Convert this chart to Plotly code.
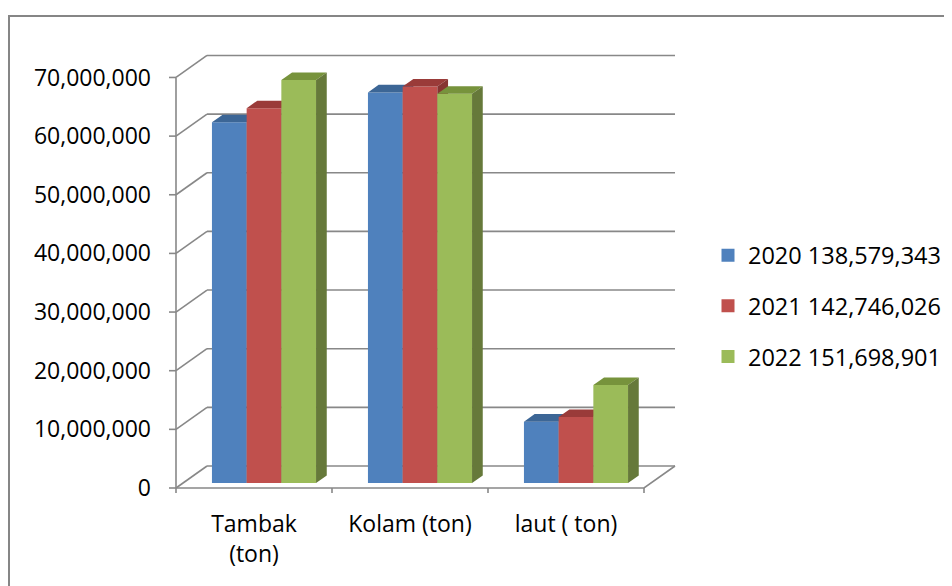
import plotly.graph_objects as go

# ---------------- data ----------------
categories = ["Tambak<br>(ton)", "Kolam (ton)", "laut ( ton)"]
series_names = ["2020 138,579,343", "2021 142,746,026", "2022 151,698,901"]
v2020 = [61_500_000, 66_600_000, 10_450_000]
v2021 = [63_900_000, 67_600_000, 11_250_000]
v2022 = [68_700_000, 66_350_000, 16_700_000]
y_ticks = [0, 10_000_000, 20_000_000, 30_000_000, 40_000_000, 50_000_000, 60_000_000, 70_000_000]

series_values = [v2020, v2021, v2022]
front_colors = ["#4F81BD", "#C0504D", "#9BBB59"]
top_colors = ["#3C6696", "#9A3B39", "#77933C"]
side_colors = ["#365A85", "#873432", "#66793A"]

# ---------------- geometry (pixel scales) ----------------
PAGE = 8                    # default page body margin of the html page
W, H = 952 - PAGE, 586 - PAGE
PX_X = 156.0                # px per category unit
PX_Y = 5.865 / 1e6          # px per value unit
ML, MT = 169.0 - PAGE, 54.0 - PAGE
x_range = [-7 / PX_X, 3 + 33 / PX_X]
y_range = [-6 / PX_Y, 74_000_000]
plot_w = (x_range[1] - x_range[0]) * PX_X
plot_h = (y_range[1] - y_range[0]) * PX_Y
MR = W - ML - plot_w
MB = H - MT - plot_h

# 3D offsets
dxB, dyB = 31 / PX_X, 22 / PX_Y          # back wall offset
xoffB, yoffB = 10 / PX_X, 5 / PX_Y       # bar front plane offset
ddx, ddy = 10.7 / PX_X, 7.6 / PX_Y       # bar depth
bw = 34.7 / PX_X                          # bar width

grid_col = "#888888"

fig = go.Figure()

# ---- walls / grid ----
gx, gy = [], []
for v in y_ticks:
    gx += [dxB, 3 + dxB, None]
    gy += [v + dyB, v + dyB, None]
    gx += [0, dxB, None]
    gy += [v, v + dyB, None]
    gx += [-7 / PX_X, 0, None]
    gy += [v, v, None]
gx += [0, 0, None]
gy += [0, y_ticks[-1], None]
gx += [0, 3, 3 + dxB, None]
gy += [0, 0, dyB, None]
for i in range(len(categories) + 1):
    gx += [i, i, None]
    gy += [0, -5 / PX_Y, None]

fig.add_trace(go.Scatter(x=gx, y=gy, mode="lines", line=dict(color=grid_col, width=1.6),
                         hoverinfo="skip", showlegend=False))

# ---- 3D bars ----
n = len(series_values)
for j, vals in enumerate(series_values):
    fx, fy, tx, ty, sx, sy = [], [], [], [], [], []
    for i, v in enumerate(vals):
        c = i + 0.5 + xoffB
        xl = c + (j - n / 2) * bw
        xr = xl + bw
        b = yoffB
        t = yoffB + v
        fx += [xl, xr, xr, xl, xl, None]
        fy += [b, b, t, t, b, None]
        tx += [xl, xr, xr + ddx, xl + ddx, xl, None]
        ty += [t, t, t + ddy, t + ddy, t, None]
        sx += [xr, xr + ddx, xr + ddx, xr, xr, None]
        sy += [b, b + ddy, t + ddy, t, b, None]
    for xs, ys, col in [(fx, fy, front_colors[j]), (tx, ty, top_colors[j]), (sx, sy, side_colors[j])]:
        fig.add_trace(go.Scatter(x=xs, y=ys, mode="lines", fill="toself", fillcolor=col,
                                 line=dict(width=0, color=col), hoverinfo="skip", showlegend=False))

# ---- legend entries ----
for j, name in enumerate(series_names):
    fig.add_trace(go.Scatter(x=[None], y=[None], mode="markers", name=name, legendgroup=name,
                             marker=dict(symbol="square", size=13, color=front_colors[j])))


def px2paper_x(px):
    return (px - ML) / plot_w


def px2paper_y(py):
    return (H - MB - py) / plot_h


fig.add_shape(type="rect", xref="paper", yref="paper",
              x0=px2paper_x(1), x1=px2paper_x(W + 20), y0=px2paper_y(H + 20), y1=px2paper_y(16 - PAGE),
              line=dict(color="#868686", width=2), fillcolor="rgba(0,0,0,0)", layer="below")

fig.update_layout(
    width=W, height=H,
    margin=dict(l=ML, r=MR, t=MT, b=MB, pad=0, autoexpand=False),
    paper_bgcolor="white", plot_bgcolor="white",
    font=dict(family="Open Sans", color="#000000"),
    xaxis=dict(range=x_range, showgrid=False, zeroline=False, showline=False, automargin=False,
               tickvals=[i + 0.5 for i in range(len(categories))], ticktext=categories,
               ticks="", tickfont=dict(size=23), ticklabelstandoff=14, fixedrange=True),
    yaxis=dict(range=y_range, showgrid=False, zeroline=False, showline=False, automargin=False,
               tickvals=y_ticks, ticktext=[f"{v:,}" for v in y_ticks],
               ticks="", tickfont=dict(size=23), ticklabelstandoff=17, fixedrange=True),
    legend=dict(xref="container", yref="container", x=(748 - PAGE - 40) / W, xanchor="left",
                y=1 - (306 - PAGE) / H, yanchor="middle",
                font=dict(size=23.5), tracegroupgap=17, traceorder="grouped",
                bgcolor="rgba(0,0,0,0)"),
    showlegend=True,
)

fig.write_html("out.html")
